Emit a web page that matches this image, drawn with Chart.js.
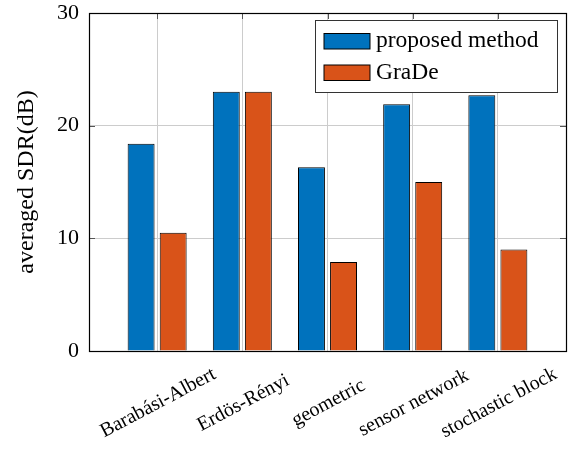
<!DOCTYPE html>
<html><head><meta charset="utf-8">
<script src="https://cdn.jsdelivr.net/npm/chart.js@4/dist/chart.umd.min.js"></script>
<style>html,body{margin:0;padding:0;background:#fff;}#wrap{width:577px;height:449px;}</style>
</head><body><div id="wrap"><canvas id="c" width="577" height="449"></canvas></div>
<script>
const categories = ['Barabási-Albert', 'Erdös-Rényi', 'geometric', 'sensor network', 'stochastic block'];
const seriesNames = ['proposed method', 'GraDe'];
const proposedMethod = [18.4, 23.0, 16.3, 21.9, 22.7];
const grade = [10.5, 23.0, 7.9, 15.0, 9.0];
const yTicks = [0, 10, 20, 30];
const yLabel = 'averaged SDR(dB)';

const BLUE = '#0072BD', ORANGE = '#D95319';
const SERIF = '"Liberation Serif", "DejaVu Serif", serif';

const toPoints = arr => arr.map((v, i) => ({x: i, y: v}));

const framePlugin = {
  id: 'frame',
  afterDatasetsDraw(chart) {
    const {ctx, chartArea: a, scales} = chart;
    ctx.save();
    ctx.strokeStyle = '#555';
    ctx.lineWidth = 1;
    const tl = 6;
    yTicks.forEach(t => {
      const y = Math.round(scales.y.getPixelForValue(t)) + 0.5;
      ctx.beginPath();
      ctx.moveTo(a.left, y); ctx.lineTo(a.left + tl, y);
      ctx.moveTo(a.right, y); ctx.lineTo(a.right - tl, y);
      ctx.stroke();
    });
    categories.forEach((c, i) => {
      const x = Math.round(scales.x.getPixelForValue(i)) + 0.5;
      ctx.beginPath();
      ctx.moveTo(x, a.top); ctx.lineTo(x, a.top + tl);
      ctx.stroke();
    });
    ctx.strokeStyle = '#000';
    ctx.lineWidth = 1.2;
    ctx.strokeRect(Math.round(a.left) + 0.5, Math.round(a.top) + 0.5,
                   Math.round(a.right - a.left), Math.round(a.bottom - a.top));
    ctx.restore();
  },
  afterDraw(chart) {
    const {ctx, chartArea: a, scales} = chart;
    ctx.save();
    ctx.font = '20px ' + SERIF;
    ctx.fillStyle = '#000';
    ctx.textAlign = 'center';
    ctx.textBaseline = 'middle';
    categories.forEach((c, i) => {
      const x = scales.x.getPixelForValue(i) + 1;
      const y = a.bottom + 52;
      ctx.save();
      ctx.translate(x, y);
      ctx.rotate(-28 * Math.PI / 180);
      ctx.fillText(c, 0, 0);
      ctx.restore();
    });
    const w = 242, h = 72;
    const lx = Math.round(a.right - 9 - w) + 0.5, ly = Math.round(a.top + 7) + 0.5;
    ctx.fillStyle = '#fff';
    ctx.fillRect(lx, ly, w, h);
    ctx.strokeStyle = '#333';
    ctx.lineWidth = 1;
    ctx.strokeRect(lx, ly, w, h);
    ctx.font = '23.5px ' + SERIF;
    ctx.textAlign = 'left';
    ctx.textBaseline = 'alphabetic';
    chart.data.datasets.forEach((ds, k) => {
      const sy = ly + 13 + k * 31.5;
      ctx.fillStyle = ds.backgroundColor;
      ctx.fillRect(lx + 8.5, sy, 46, 15.5);
      ctx.strokeStyle = '#000';
      ctx.strokeRect(lx + 8.5, sy, 46, 15.5);
      ctx.fillStyle = '#000';
      ctx.fillText(ds.label, lx + 60.5, sy + 13.5);
    });
    ctx.restore();
  }
};

new Chart(document.getElementById('c'), {
  type: 'bar',
  data: {
    datasets: [
      {label: seriesNames[0], data: toPoints(proposedMethod), backgroundColor: BLUE, borderColor: '#000', borderWidth: 1},
      {label: seriesNames[1], data: toPoints(grade), backgroundColor: ORANGE, borderColor: '#000', borderWidth: 1}
    ]
  },
  options: {
    responsive: false,
    animation: false,
    devicePixelRatio: 1,
    categoryPercentage: 0.753,
    barPercentage: 0.84,
    layout: {padding: {left: 0, right: 11, top: 13, bottom: 0}},
    plugins: {legend: {display: false}, tooltip: {enabled: false}},
    scales: {
      x: {
        type: 'linear',
        offset: false,
        min: -0.8, max: 4.8,
        afterBuildTicks: s => { s.ticks = categories.map((c, i) => ({value: i})); },
        afterFit: s => { s.height = 98; s.paddingLeft = 0; s.paddingRight = 0; },
        ticks: {display: false},
        grid: {color: '#cccccc', lineWidth: 1, drawTicks: false, offset: false},
        border: {display: false}
      },
      y: {
        min: 0, max: 30,
        afterBuildTicks: s => { s.ticks = yTicks.map(v => ({value: v})); },
        afterFit: s => { s.width = 89; s.paddingTop = 0; s.paddingBottom = 0; },
        ticks: {font: {family: SERIF, size: 22}, color: '#000', padding: 10},
        grid: {color: '#cccccc', lineWidth: 1, drawTicks: false},
        border: {display: false},
        title: {display: true, text: yLabel, color: '#000', font: {family: SERIF, size: 24}, padding: {top: 12, bottom: 0}}
      }
    }
  },
  plugins: [framePlugin]
});
</script></body></html>
